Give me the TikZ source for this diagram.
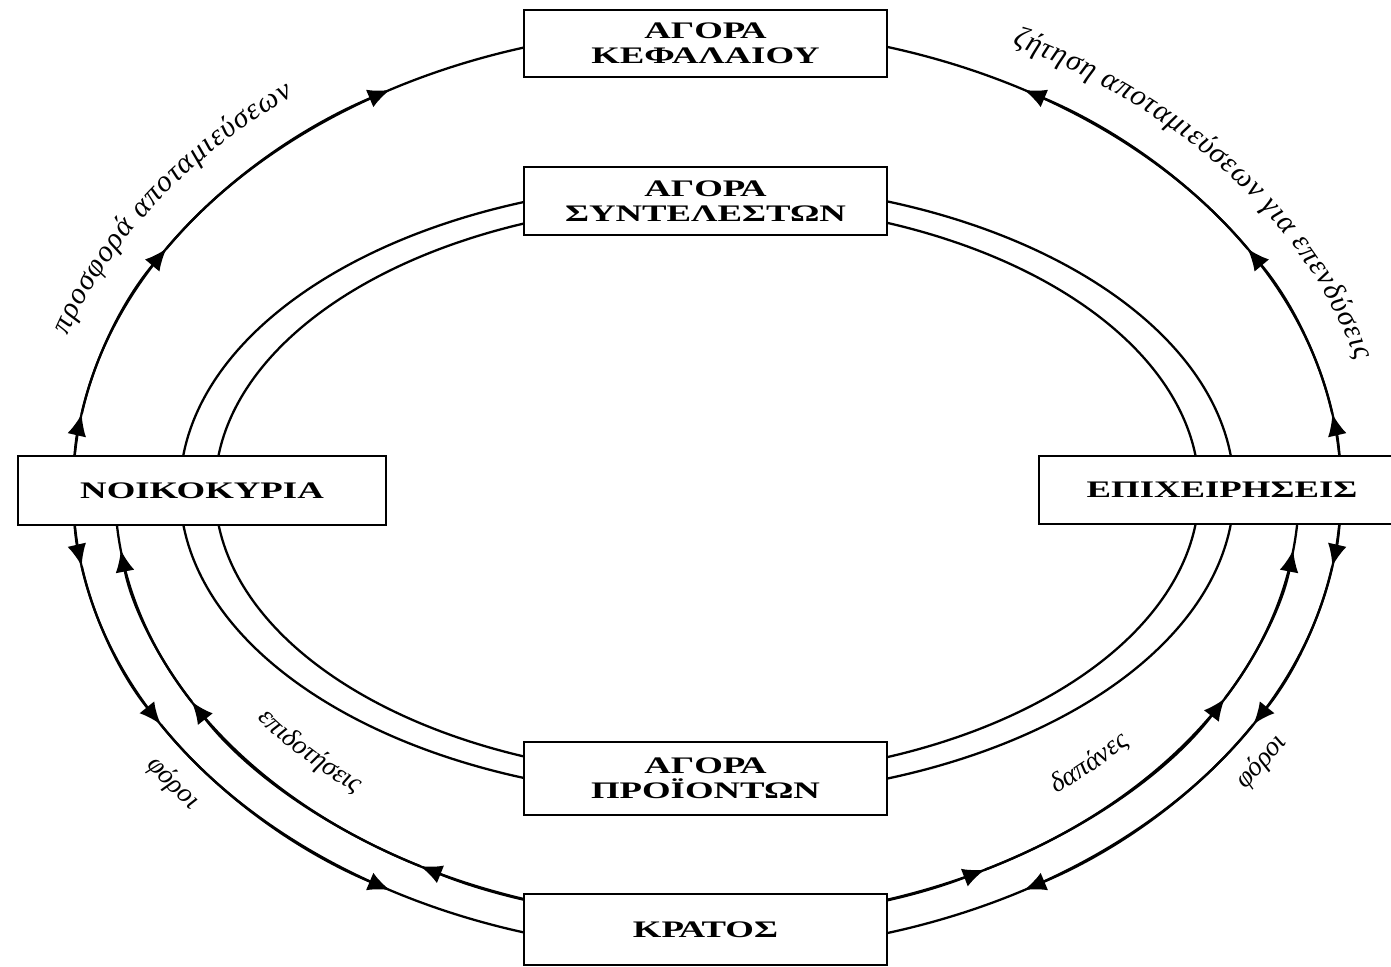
\documentclass[tikz,border=0pt]{standalone}
\usepackage{fontspec}
\setmainfont{Liberation Serif}
\usepackage{graphicx}
\usetikzlibrary{arrows.meta,calc,decorations.text}

\newcommand{\wide}[1]{\scalebox{1.55}[1]{#1}}
\newcommand{\flowfont}{\fontsize{15.5}{15.5}\selectfont\itshape}
\newcommand{\longflowfont}{\fontsize{17}{17}\selectfont\itshape}

\tikzset{
  market/.style={draw,line width=1.1pt,fill=white,minimum width=7.26cm,inner sep=0pt,align=center,font=\fontsize{13.5}{14.5}\selectfont\bfseries},
  flow/.style={line width=1.3pt},
  tip/.style={-{Latex[length=4.4mm,width=3.8mm]}}
}

\begin{document}
\begin{tikzpicture}[x=0.02cm,y=0.02cm]
\useasboundingbox (0,0) rectangle (1391,966);
\coordinate (O) at (707,476);

% the two rings through the factor and product markets
\draw[flow] (O) ellipse [x radius=527,y radius=307];
\draw[flow] (O) ellipse [x radius=492,y radius=287];

% outer ring: savings, investment, taxes
\draw[flow] (O) ellipse [x radius=634,y radius=462];
\foreach \s/\e in {180/170.5,170.5/148.5,148.5/120,0/9.5,9.5/31.5,31.5/60,180/189.5,189.5/210.5,210.5/240,360/350.5,350.5/329.5,329.5/300}
\draw[flow,tip] ($(O)+(\s:634 and 462)$) arc[start angle=\s,end angle=\e,x radius=634,y radius=462];

% inner ring: transfers and purchases of the state
\draw[flow] ($(O)+(180:592 and 430)$) arc[start angle=180,end angle=360,x radius=592,y radius=430];
\foreach \s/\e in {270/241,241/209.5,209.5/188,270/298,298/331,331/352}
\draw[flow,tip] ($(O)+(\s:592 and 430)$) arc[start angle=\s,end angle=\e,x radius=592,y radius=430];

% the markets and sectors
\node[market,minimum height=1.34cm] (kap) at (705.5,922.5) {\wide{ΑΓΟΡΑ}\\\wide{ΚΕΦΑΛΑΙΟΥ}};
\node[market,minimum height=1.36cm] (syn) at (705.5,765) {\wide{ΑΓΟΡΑ}\\\wide{ΣΥΝΤΕΛΕΣΤΩΝ}};
\node[market,minimum height=1.46cm] (prd) at (705.5,187.5) {\wide{ΑΓΟΡΑ}\\\wide{ΠΡΟΪΟΝΤΩΝ}};
\node[market,minimum height=1.42cm] (krt) at (705.5,36.5) {\wide{ΚΡΑΤΟΣ}};
\node[market,minimum width=7.36cm,minimum height=1.38cm] (nik) at (202,475.5) {\wide{ΝΟΙΚΟΚΥΡΙΑ}};
\node[market,minimum width=7.32cm,minimum height=1.36cm] (epx) at (1222,476) {\wide{ΕΠΙΧΕΙΡΗΣΕΙΣ}};

% labels along the flows
\path[decorate,decoration={text along path,text align={fit to path},text={|\longflowfont|προσφορά αποταμιεύσεων}}]
  ($(O)+(162:672 and 500)$) arc[start angle=162,end angle=128,x radius=672,y radius=500];
\path[decorate,decoration={text along path,text align={fit to path},text={|\longflowfont|ζήτηση αποταμιεύσεων για επενδύσεις}}]
  ($(O)+(63:672 and 500)$) arc[start angle=63,end angle=15,x radius=672,y radius=500];
\path[decorate,decoration={text along path,text align=center,text={|\flowfont|φόροι}}]
  ($(O)+(200:672 and 500)$) arc[start angle=200,end angle=232,x radius=672,y radius=500];
\path[decorate,decoration={text along path,text align=center,text={|\flowfont|φόροι}}]
  ($(O)+(312:672 and 500)$) arc[start angle=312,end angle=342,x radius=672,y radius=500];
\path[decorate,decoration={text along path,text align=center,text={|\flowfont|επιδοτήσεις}}]
  ($(O)+(205:554 and 392)$) arc[start angle=205,end angle=240,x radius=554,y radius=392];
\path[decorate,decoration={text along path,text align=center,text={|\flowfont|δαπάνες}}]
  ($(O)+(300:554 and 392)$) arc[start angle=300,end angle=330,x radius=554,y radius=392];

\end{tikzpicture}
\end{document}
